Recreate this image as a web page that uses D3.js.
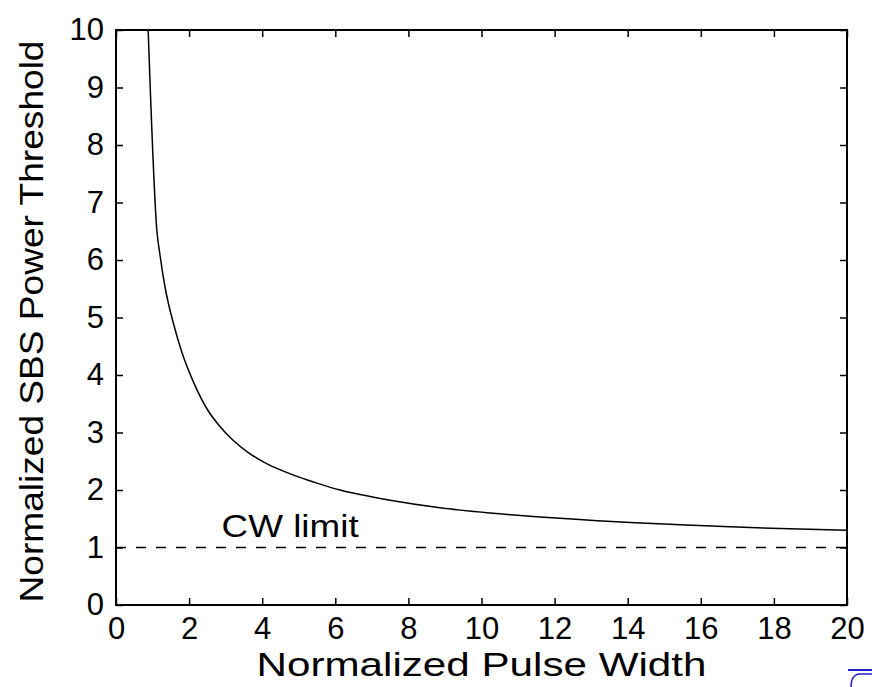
<!DOCTYPE html>
<html>
<meta charset="utf-8">
<head>
<script src="https://d3js.org/d3.v7.min.js"></script>
<style>
  body { margin: 0; background: #fff; }
  text { font-family: "Liberation Sans", Arial, Helvetica, sans-serif; fill: #000; }
</style>
</head>
<body>
<div id="chart"></div>
<script>
// curve
var pulseWidth = [0.88, 1.12, 1.2, 1.35, 1.57, 1.8, 2.16, 2.5, 2.85, 3.21, 3.6, 4.12, 4.5, 5.03, 5.5,
                  6.13, 6.68, 7.5, 8.86, 10.23, 11.6, 12.97, 14.2, 15.43, 16.8, 18.17, 20];
var threshold  = [10, 6.5, 6.1, 5.5, 4.9, 4.4, 3.82, 3.4, 3.1, 2.86, 2.66, 2.46, 2.35, 2.22, 2.12,
                  2.0, 1.92, 1.82, 1.69, 1.6, 1.53, 1.475, 1.43, 1.395, 1.36, 1.33, 1.3];
var cwLimit = 1;
var xTicks = [0, 2, 4, 6, 8, 10, 12, 14, 16, 18, 20];
var yTicks = [0, 1, 2, 3, 4, 5, 6, 7, 8, 9, 10];

var width = 872, height = 687;
var margin = {top: 30, right: 25, bottom: 82, left: 116};

var svg = d3.select("#chart").append("svg")
    .attr("width", width)
    .attr("height", height);

var x = d3.scaleLinear().domain([0, 20]).range([margin.left, width - margin.right]);
var y = d3.scaleLinear().domain([0, 10]).range([height - margin.bottom, margin.top]);

// inward ticks on all four sides, labels only bottom and left
svg.append("g")
    .attr("transform", "translate(0," + y(0) + ")")
    .call(d3.axisBottom(x).tickValues(xTicks).tickSize(-7).tickPadding(12))
    .call(function(g) {
      g.select(".domain").remove();
      g.selectAll("line").attr("stroke-width", 1.5);
      g.selectAll("text").style("font-size", "31px").attr("dy", "0.71em");
    });
svg.append("g")
    .attr("transform", "translate(0," + y(10) + ")")
    .call(d3.axisTop(x).tickValues(xTicks).tickSize(-7).tickFormat(""))
    .call(function(g) { g.select(".domain").remove(); g.selectAll("line").attr("stroke-width", 1.5); });
svg.append("g")
    .attr("transform", "translate(" + x(0) + ",0)")
    .call(d3.axisLeft(y).tickValues(yTicks).tickSize(-7).tickPadding(12))
    .call(function(g) {
      g.select(".domain").remove();
      g.selectAll("line").attr("stroke-width", 1.5);
      g.selectAll("text").style("font-size", "31px");
    });
svg.append("g")
    .attr("transform", "translate(" + x(20) + ",0)")
    .call(d3.axisRight(y).tickValues(yTicks).tickSize(-7).tickFormat(""))
    .call(function(g) { g.select(".domain").remove(); g.selectAll("line").attr("stroke-width", 1.5); });

// frame
svg.append("rect")
    .attr("x", x(0)).attr("y", y(10))
    .attr("width", x(20) - x(0)).attr("height", y(0) - y(10))
    .attr("fill", "none").attr("stroke", "#000").attr("stroke-width", 2);

// CW limit dashed line
svg.append("line")
    .attr("x1", x(0)).attr("x2", x(20))
    .attr("y1", y(cwLimit)).attr("y2", y(cwLimit))
    .attr("stroke", "#000").attr("stroke-width", 1.3)
    .attr("stroke-dasharray", "10,10");

svg.append("text")
    .attr("x", x(2.89)).attr("y", y(cwLimit) - 11)
    .attr("textLength", 137).attr("lengthAdjust", "spacingAndGlyphs")
    .style("font-size", "32px")
    .text("CW limit");

// threshold curve
var pts = pulseWidth.map(function(d, i) { return [d, threshold[i]]; });
svg.append("path")
    .datum(pts)
    .attr("fill", "none")
    .attr("stroke", "#000")
    .attr("stroke-width", 1.5)
    .attr("d", d3.line()
      .x(function(d) { return x(d[0]); })
      .y(function(d) { return y(d[1]); })
      .curve(d3.curveMonotoneX));

// axis titles
svg.append("text")
    .attr("x", (x(0) + x(20)) / 2).attr("y", 676)
    .attr("text-anchor", "middle")
    .attr("textLength", 450).attr("lengthAdjust", "spacingAndGlyphs")
    .style("font-size", "33px")
    .text("Normalized Pulse Width");

svg.append("text")
    .attr("transform", "translate(43," + ((y(0) + y(10)) / 2 + 4) + ") rotate(-90)")
    .attr("text-anchor", "middle")
    .attr("textLength", 562).attr("lengthAdjust", "spacingAndGlyphs")
    .style("font-size", "33px")
    .text("Normalized SBS Power Threshold");

// small blue mark cut off at the bottom right corner
svg.append("line")
    .attr("x1", 848).attr("x2", 872).attr("y1", 670).attr("y2", 670)
    .attr("stroke", "#2222cc").attr("stroke-width", 2);
svg.append("path")
    .attr("d", "M872,674 L858,674 Q851,676 851,687")
    .attr("fill", "none").attr("stroke", "#2222cc").attr("stroke-width", 1.5);
</script>
</body>
</html>
